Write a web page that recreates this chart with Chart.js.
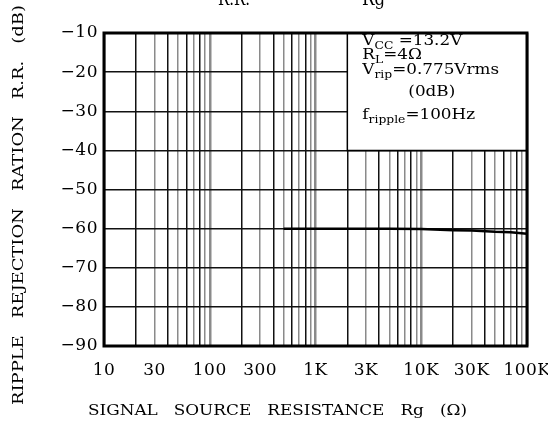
<!DOCTYPE html>
<html>
<head>
<meta charset="utf-8">
<script src="https://cdn.jsdelivr.net/npm/chart.js@4.4.0/dist/chart.umd.min.js"></script>
<style>
  html, body { margin: 0; padding: 0; background: #fff; }
  #wrap { width: 548px; height: 429px; position: relative; }
</style>
</head>
<body>
<div id="wrap"><canvas id="c" width="548" height="429"></canvas></div>
<script>
// ---- data ----
const resistance = [500, 1000, 2000, 5000, 10000, 20000, 30000, 50000, 70000, 100000];
const rejection  = [-60, -60, -60, -60, -60.1, -60.4, -60.5, -60.8, -60.9, -61.3];

const xLabelValues = [10, 30, 100, 300, 1000, 3000, 10000, 30000, 100000];
const xLabelTexts  = ['10', '30', '100', '300', '1K', '3K', '10K', '30K', '100K'];
const xGridMantissas = [1, 2, 3, 4, 5, 6, 7, 8, 9];
const xDecades = [10, 100, 1000, 10000];

const yMin = -90, yMax = -10, yStep = 5;

const titleParts = ['R.R.', '—', 'Rg'];
const xTitle = 'SIGNAL   SOURCE   RESISTANCE   Rg   (Ω)';
const yTitle = 'RIPPLE   REJECTION   RATION   R.R.   (dB)';

const conditionLines = [
  [['V', false], ['CC', true], [' =13.2V', false]],
  [['R', false], ['L', true], ['=4Ω', false]],
  [['V', false], ['rip', true], ['=0.775Vrms', false]],
  [['(0dB)', false]],
  [['f', false], ['ripple', true], ['=100Hz', false]]
];
const boxFromX = 2000, boxToY = -40;

// ---- build grid tick values ----
const xGridValues = [];
xDecades.forEach(d => xGridMantissas.forEach(m => xGridValues.push(d * m)));
xGridValues.push(100000);

const SERIF = '"DejaVu Serif", "Liberation Serif", serif';

function mantissa(v) {
  const p = Math.pow(10, Math.floor(Math.log10(v) + 1e-9));
  return Math.round(v / p);
}

// draw text starting at (x,y) stretched horizontally so that it spans `span` px
function stretchText(ctx, text, x, y, span) {
  const w0 = ctx.measureText(text).width;
  ctx.save();
  ctx.translate(x, y);
  ctx.scale(span / w0, 1);
  ctx.fillText(text, 0, 0);
  ctx.restore();
}

const letterSpacingPlugin = {
  id: 'ls',
  beforeUpdate(chart) { chart.ctx.letterSpacing = '0.5px'; },
  beforeDraw(chart) { chart.ctx.letterSpacing = '0.5px'; }
};

// start offset from box edge and baseline for each condition line
const condLayout = [
  { dx: 15, base: 45 },
  { dx: 15, base: 59 },
  { dx: 15, base: 74 },
  { dx: 61, base: 96 },
  { dx: 15, base: 119 }
];
const condStretch = 1.12;

const boxPlugin = {
  id: 'condBox',
  beforeDatasetsDraw(chart) {
    const { ctx, chartArea, scales } = chart;
    const x0 = scales.x.getPixelForValue(boxFromX);
    const y1 = scales.y.getPixelForValue(boxToY);
    ctx.save();
    ctx.letterSpacing = '0px';
    ctx.fillStyle = '#fff';
    ctx.fillRect(x0, chartArea.top, chartArea.right - x0, y1 - chartArea.top);
    ctx.strokeStyle = '#000';
    ctx.lineWidth = 1.5;
    ctx.beginPath();
    ctx.moveTo(x0, chartArea.top);
    ctx.lineTo(x0, y1);
    ctx.lineTo(chartArea.right, y1);
    ctx.stroke();
    ctx.fillStyle = '#000';
    ctx.textBaseline = 'alphabetic';
    ctx.textAlign = 'left';
    conditionLines.forEach((segs, i) => {
      const L = condLayout[i];
      ctx.save();
      ctx.translate(x0 + L.dx, chartArea.top + (L.base - 33));
      ctx.scale(condStretch, 1);
      let x = 0;
      segs.forEach(([t, sub]) => {
        ctx.font = (sub ? '11px ' : '15px ') + SERIF;
        ctx.fillText(t, x, sub ? 4 : 0);
        x += ctx.measureText(t).width;
      });
      ctx.restore();
    });
    ctx.restore();
  },
  afterDraw(chart) {
    const { ctx, chartArea } = chart;
    ctx.save();
    ctx.letterSpacing = '0px';
    ctx.strokeStyle = '#000';
    ctx.lineWidth = 3;
    ctx.strokeRect(chartArea.left, chartArea.top, chartArea.right - chartArea.left, chartArea.bottom - chartArea.top);
    ctx.fillStyle = '#000';
    ctx.textBaseline = 'alphabetic';
    // cut-off chart title at the very top
    ctx.font = '18px ' + SERIF;
    ctx.textAlign = 'left';
    stretchText(ctx, titleParts[0], 218, 5, 32);
    ctx.textAlign = 'center';
    ctx.fillText(titleParts[1], 306, -1);
    ctx.textAlign = 'left';
    stretchText(ctx, titleParts[2], 362, 5, 23);
    // x axis title
    ctx.font = '15px ' + SERIF;
    ctx.textAlign = 'left';
    ctx.textBaseline = 'middle';
    stretchText(ctx, xTitle, 88, 411, 379);
    // y axis title
    ctx.translate(19, 405);
    ctx.rotate(-Math.PI / 2);
    ctx.font = '14px ' + SERIF;
    stretchText(ctx, yTitle, 0, 0, 400);
    ctx.restore();
  }
};

new Chart(document.getElementById('c'), {
  type: 'line',
  data: {
    datasets: [{
      data: resistance.map((r, i) => ({ x: r, y: rejection[i] })),
      borderColor: '#000',
      borderWidth: 2.5,
      pointRadius: 0,
      tension: 0,
      fill: false
    }]
  },
  options: {
    responsive: false,
    animation: false,
    layout: { padding: { left: 0, right: 21, top: 33, bottom: 0 }, autoPadding: false },
    plugins: { legend: { display: false }, tooltip: { enabled: false }, title: { display: false } },
    scales: {
      x: {
        type: 'logarithmic',
        min: 10, max: 100000,
        afterBuildTicks(scale) { scale.ticks = xGridValues.map(v => ({ value: v })); },
        afterFit(scale) { scale.height = 83; scale.paddingLeft = 0; scale.paddingRight = 0; },
        ticks: {
          autoSkip: false, maxRotation: 0, minRotation: 0, padding: 14,
          color: '#000',
          font: { family: SERIF, size: 17 },
          callback(v) {
            const i = xLabelValues.indexOf(v);
            return i >= 0 ? xLabelTexts[i] : '';
          }
        },
        grid: {
          drawTicks: false,
          color(ctx) {
            const m = mantissa(ctx.tick.value);
            if (m === 1) return '#8a8a8a';
            return (m % 2 === 0) ? '#111' : '#8a8a8a';
          },
          lineWidth(ctx) { return mantissa(ctx.tick.value) === 1 ? 2.5 : 1.5; }
        },
        border: { display: false },
        title: { display: false, text: xTitle }
      },
      y: {
        min: yMin, max: yMax,
        afterFit(scale) { scale.width = 104; scale.paddingTop = 0; scale.paddingBottom = 0; },
        ticks: {
          stepSize: yStep, padding: 6, color: '#000',
          font: { family: SERIF, size: 17 },
          callback(v) { return v % 10 === 0 ? '−' + Math.abs(v) : ''; }
        },
        grid: {
          drawTicks: false,
          color(ctx) { return ctx.tick.value % 10 === 0 ? '#111' : '#8a8a8a'; },
          lineWidth: 1.5
        },
        border: { display: false },
        title: { display: false, text: yTitle }
      }
    }
  },
  plugins: [letterSpacingPlugin, boxPlugin]
});
</script>
</body>
</html>
